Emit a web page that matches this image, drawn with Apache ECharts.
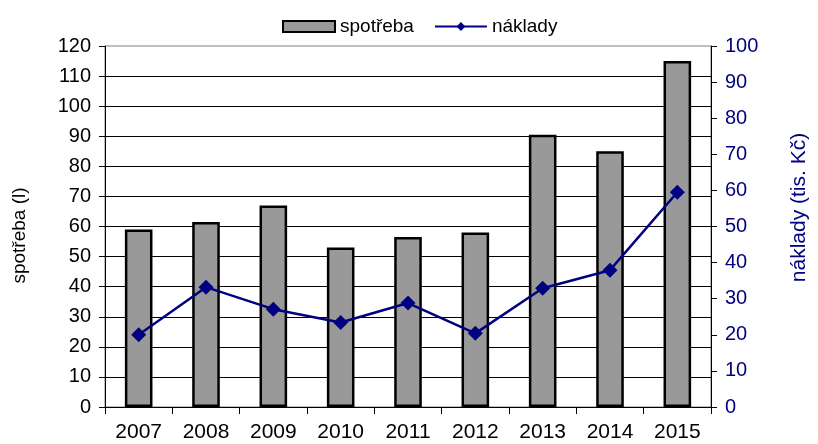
<!DOCTYPE html>
<html>
<head>
<meta charset="utf-8">
<script src="https://cdn.jsdelivr.net/npm/echarts@6/dist/echarts.min.js"></script>
<style>
  html, body { margin: 0; padding: 0; background: #fff; }
  #chart { width: 818px; height: 444px; }
</style>
</head>
<body>
<div id="chart"></div>
<script>
const years = ['2007', '2008', '2009', '2010', '2011', '2012', '2013', '2014', '2015']
// spotřeba (l), levá osa
const spotreba = [59, 61.5, 67, 53, 56.5, 58, 90.5, 85, 115]
// náklady (tis. Kč), pravá osa
const naklady = [20, 33.2, 27.1, 23.4, 28.8, 20.4, 32.9, 37.9, 59.5]

const font = 'Liberation Sans, Arial, sans-serif'
const navy = '#000080'

const chart = echarts.init(document.getElementById('chart'), null, { renderer: 'canvas' })

chart.setOption({
  animation: false,
  textStyle: { fontFamily: font },
  grid: {
    left: 105, right: 100, top: 46, bottom: 37,
    show: true, borderColor: '#808080', borderWidth: 1, backgroundColor: '#fff',
  },
  legend: {
    top: 12,
    left: 277,
    itemWidth: 52,
    itemHeight: 11,
    itemGap: 20,
    textStyle: { fontFamily: font, fontSize: 19, color: '#000' },
    data: [
      { name: 'spotřeba', icon: 'rect', itemStyle: { color: '#999999', borderColor: '#000', borderWidth: 2 } },
      { name: 'náklady' },
    ],
  },
  xAxis: {
    type: 'category',
    data: years,
    boundaryGap: true,
    axisLine: { lineStyle: { color: '#000', width: 1 } },
    axisTick: { show: true, length: 7, lineStyle: { color: '#000' } },
    axisLabel: { color: '#000', fontSize: 21, fontFamily: font, margin: 15 },
  },
  yAxis: [
    {
      type: 'value',
      min: 0, max: 120, interval: 10,
      name: 'spotřeba (l)',
      nameLocation: 'middle',
      nameRotate: 90,
      nameGap: 76,
      nameTextStyle: { color: '#000', fontSize: 19, fontFamily: font, padding: [0, 18, 0, 0] },
      axisLine: { show: true, lineStyle: { color: '#000', width: 1 } },
      axisTick: { show: true, length: 6, lineStyle: { color: '#000' } },
      axisLabel: { color: '#000', fontSize: 20, fontFamily: font, margin: 14 },
      splitLine: { show: true, showMaxLine: false, lineStyle: { color: '#000', width: 1 } },
    },
    {
      type: 'value',
      min: 0, max: 100, interval: 10,
      position: 'right',
      name: 'náklady (tis. Kč)',
      nameLocation: 'middle',
      nameRotate: 90,
      nameGap: 78,
      nameTextStyle: { color: navy, fontSize: 21, fontFamily: font, padding: [0, 0, 0, 38] },
      axisLine: { show: true, lineStyle: { color: '#000', width: 1 } },
      axisTick: { show: true, length: 6, lineStyle: { color: '#000' } },
      axisLabel: { color: navy, fontSize: 20, fontFamily: font, margin: 14 },
      splitLine: { show: false },
    },
  ],
  series: [
    {
      name: 'spotřeba',
      type: 'bar',
      yAxisIndex: 0,
      data: spotreba,
      barWidth: '41%',
      itemStyle: { color: '#999999', borderColor: '#000', borderWidth: 2.5 },
    },
    {
      name: 'náklady',
      type: 'line',
      yAxisIndex: 1,
      data: naklady,
      symbol: 'diamond',
      symbolSize: 15,
      lineStyle: { color: navy, width: 2.5 },
      itemStyle: { color: navy },
    },
  ],
})
</script>
</body>
</html>
